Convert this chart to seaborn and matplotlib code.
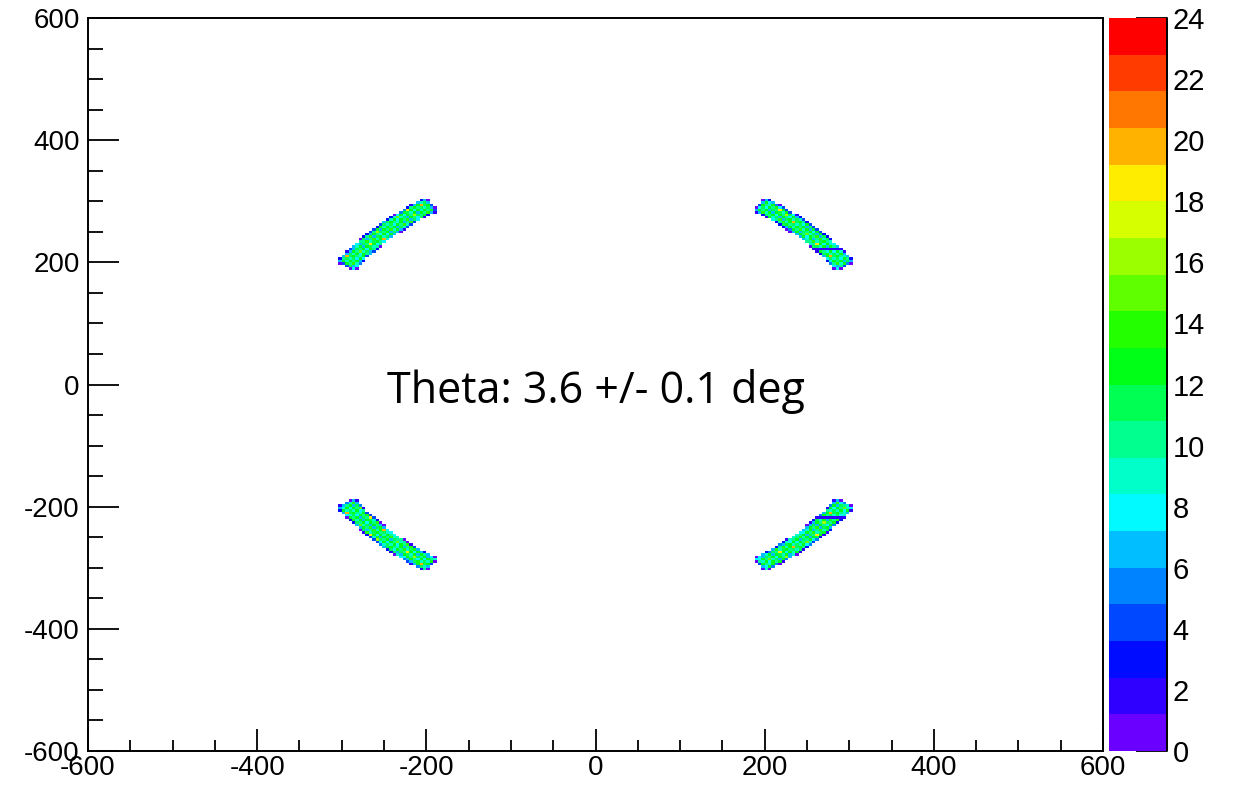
import numpy as np
import pandas as pd
import seaborn as sns
import matplotlib
matplotlib.use("Agg")
import matplotlib.pyplot as plt
from matplotlib.colors import ListedColormap
from matplotlib.ticker import MultipleLocator

# ---- histogram definition -------------------------------------------------
AXIS_RANGE = (-600, 600)
N_BINS = 300
Z_RANGE = (0, 24)

# four ring segments (hit pattern on the detector plane)
ARC_CENTER_DEG = [45, 135, 225, 315]
ARC_RADIUS = 353.0
ARC_HALF_WIDTH = 11.5
ARC_HALF_SPAN_DEG = 11.5
# inactive strips crossing some of the segments (y position per segment)
DEAD_STRIP_Y = [222.0, None, -220.0, -218.0]
DEAD_STRIP_COUNT = 2

# typical hit counts per bin inside a segment
COUNT_TILE = [
    [11, 9, 13, 8, 12, 10, 14, 7, 11, 12, 9],
    [8, 12, 10, 15, 9, 11, 6, 13, 10, 8, 13],
    [12, 7, 11, 10, 13, 8, 12, 10, 16, 11, 10],
    [10, 14, 9, 12, 7, 13, 11, 9, 12, 6, 12],
    [13, 10, 12, 6, 11, 10, 18, 12, 8, 13, 9],
    [9, 11, 8, 13, 10, 14, 9, 11, 13, 10, 11],
    [11, 13, 10, 9, 12, 7, 10, 14, 9, 12, 20],
]

# ROOT-style rainbow palette, 20 levels from violet to red
PALETTE = [
    "#6a00ff", "#2f00ff", "#000cff", "#0048ff", "#0083ff",
    "#00beff", "#00faff", "#00ffc9", "#00ff8e", "#00ff53",
    "#00ff17", "#24ff00", "#60ff00", "#9bff00", "#d6ff00",
    "#ffed00", "#ffb200", "#ff7600", "#ff3b00", "#ff0000",
]

LABEL_TEXT = "Theta: 3.6 +/- 0.1 deg"

# ---- build bin contents ---------------------------------------------------
bw = (AXIS_RANGE[1] - AXIS_RANGE[0]) / N_BINS
centers = AXIS_RANGE[0] + bw * (np.arange(N_BINS) + 0.5)
X, Y = np.meshgrid(centers, centers, indexing="xy")
IY, IX = np.meshgrid(np.arange(N_BINS), np.arange(N_BINS), indexing="ij")
R = np.hypot(X, Y)
PHI = np.degrees(np.arctan2(Y, X)) % 360

tile = np.array(COUNT_TILE)
base = tile[IY % tile.shape[0], IX % tile.shape[1]]

counts = np.zeros_like(X)
for c, ystrip in zip(ARC_CENTER_DEG, DEAD_STRIP_Y):
    dphi = (PHI - c + 180) % 360 - 180
    rad_frac = np.clip((ARC_HALF_WIDTH - np.abs(R - ARC_RADIUS)) / bw + 0.5, 0, 1)
    ang_dist = np.radians(ARC_HALF_SPAN_DEG - np.abs(dphi)) * ARC_RADIUS
    ang_frac = np.clip(ang_dist / bw + 0.5, 0, 1)
    frac = rad_frac * ang_frac
    seg = np.round(base * frac)
    if ystrip is not None:
        on_strip = (np.abs(Y - ystrip) < bw / 2) & (seg > 0)
        seg[on_strip] = DEAD_STRIP_COUNT
    counts += seg

mask = counts > 0
df = pd.DataFrame({"x": X[mask], "y": Y[mask], "n": counts[mask]})

# ---- figure ---------------------------------------------------------------
sns.set_style("ticks")
plt.rcParams["font.family"] = ["Liberation Sans", "DejaVu Sans"]
plt.rcParams["axes.unicode_minus"] = False
plt.rcParams["text.color"] = "black"
plt.rcParams["xtick.color"] = "black"
plt.rcParams["ytick.color"] = "black"
plt.rcParams["axes.edgecolor"] = "black"

fig = plt.figure(figsize=(12.33, 7.85), dpi=100)
ax = fig.add_axes([0.0714, 0.0433, 0.8232, 0.9337])
cax = fig.add_axes([0.8994, 0.0433, 0.0471, 0.9337])

sns.histplot(
    data=df, x="x", y="y", weights="n",
    bins=N_BINS, binrange=(AXIS_RANGE, AXIS_RANGE),
    cmap=ListedColormap(PALETTE), vmin=Z_RANGE[0], vmax=Z_RANGE[1],
    cbar=True, cbar_ax=cax, ax=ax,
)

ax.set_xlim(AXIS_RANGE)
ax.set_ylim(AXIS_RANGE)
ax.set_xlabel("")
ax.set_ylabel("")
for s in ax.spines.values():
    s.set_visible(True)
    s.set_linewidth(1.4)
    s.set_color("black")
ax.xaxis.set_major_locator(MultipleLocator(200))
ax.xaxis.set_minor_locator(MultipleLocator(50))
ax.yaxis.set_major_locator(MultipleLocator(200))
ax.yaxis.set_minor_locator(MultipleLocator(50))
ax.tick_params(axis="x", which="major", direction="in", length=16, width=1.3,
               labelsize=20, pad=3, top=False, bottom=True, colors="black")
ax.tick_params(axis="x", which="minor", direction="in", length=8, width=1.3,
               top=False, bottom=True, colors="black")
ax.tick_params(axis="y", which="major", direction="in", length=22, width=1.3,
               labelsize=20, pad=6, right=False, left=True, colors="black")
ax.tick_params(axis="y", which="minor", direction="in", length=11, width=1.3,
               right=False, left=True, colors="black")

ax.text(-247, -29.5, LABEL_TEXT, fontsize=31, color="black",
        family=["Open Sans", "DejaVu Sans"], ha="left", va="baseline")

# colour scale
cb = ax.collections[0].colorbar
cb.outline.set_visible(False)
cb.set_ticks(np.arange(0, 25, 2))
cax.yaxis.set_ticks_position("right")
cax.tick_params(axis="y", which="major", direction="in", length=22, width=1.3,
                labelsize=21, pad=4, colors="black")
cax.tick_params(axis="y", which="minor", length=0)
cax.axvline(1, color="black", lw=1.4, clip_on=False)

fig.savefig("out.png", dpi=100)
